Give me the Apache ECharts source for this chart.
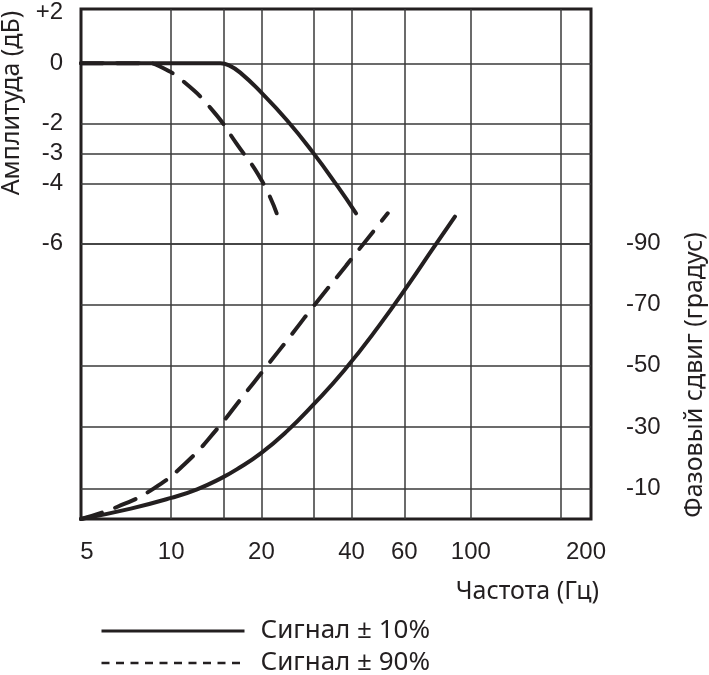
<!DOCTYPE html>
<html><head><meta charset="utf-8">
<script src="https://cdn.jsdelivr.net/npm/echarts@6/dist/echarts.min.js"></script>
<style>html,body{margin:0;padding:0;background:#fff}#c{width:709px;height:675px}</style>
</head><body><div id="c"></div>
<script>
// Axis ticks / labels
const freqGrid = [10, 15, 20, 30, 40, 60, 100, 200];
const freqLabels = [5, 10, 20, 40, 60, 100, 200];
const ampGrid = [0, -2, -3, -4, -6];
const ampLabels = [1.7, 0, -2, -3, -4, -6];
const phaseGrid = [-90, -70, -50, -30, -10];

// Amplitude, signal ±10% (solid)
const ampFreq10 = [5, 10, 14.6, 15.6, 17, 20, 24.3, 29.7, 35.8, 41.4];
const amp10     = [0, 0, 0, -0.07, -0.31, -0.98, -1.89, -2.97, -4.08, -5.0];
// Amplitude, signal ±90% (dashed)
const ampFreq90 = [5, 8.3, 9.1, 11.0, 13.85, 16.5, 20, 22.5];
const amp90     = [0, 0, -0.09, -0.61, -1.61, -2.67, -3.89, -5.0];
// Phase, signal ±10% (solid)
const phFreq10 = [5, 7.33, 10, 12.2, 14.8, 16.55, 20, 24.3, 29.7, 37.7, 49.5, 62.8, 74.4, 88.5];
const phase10  = [0, -3.4, -6.9, -9.7, -13.5, -16.2, -21.6, -28.6, -37.2, -48.4, -63.2, -77.4, -88.0, -98.7];
// Phase, signal ±90% (dashed)
const phFreq90 = [5, 6.62, 8.76, 11.3, 14.2, 17.4, 20.3, 25.5, 29.7, 38.4, 52.8];
const phase90  = [0, -4, -10, -18.7, -29.3, -40.2, -48.5, -60.8, -69.2, -82.8, -99.8];

const seriesNames = ['Сигнал ± 10%', 'Сигнал ± 90%'];

const pairs = (xs, ys) => xs.map((x, i) => [x, ys[i]]);
const INK = '#231f20';
const GRIDC = '#3a3a3a';
const tickFont = 'Liberation Sans, Arial, sans-serif';
const titleFont = 'Noto Sans, sans-serif';

const chart = echarts.init(document.getElementById('c'), null, {renderer: 'canvas'});
const solid = {color: INK, width: 4, cap: 'round', join: 'round'};
const dashed = {color: INK, width: 4, type: [22, 14], cap: 'round', join: 'round'};
const SM = 0.5;

chart.setOption({
  animation: false,
  backgroundColor: '#fff',
  grid: {left: 81, top: 9, width: 510, height: 510, show: true, borderColor: INK, borderWidth: 3, backgroundColor: 'transparent', containLabel: false},
  xAxis: {
    type: 'log', logBase: 10, min: 5, max: 251.8,
    axisLine: {show: false},
    axisTick: {show: false, customValues: freqGrid},
    splitLine: {show: true, lineStyle: {color: GRIDC, width: 1.5}},
    axisLabel: {
      customValues: freqLabels, margin: 21, color: INK, fontSize: 24, fontFamily: tickFont,
      formatter: v => v === 5 ? '{a|5}' : (v === 200 ? '{b|200}' : String(v)),
      rich: {
        a: {padding: [0, 0, 0, 12], fontSize: 24, fontFamily: tickFont, color: INK},
        b: {padding: [0, 0, 0, 50], fontSize: 24, fontFamily: tickFont, color: INK}
      }
    }
  },
  yAxis: [{
    type: 'value', min: -15.19, max: 1.81, position: 'left',
    axisLine: {show: false},
    axisTick: {show: false, customValues: ampGrid},
    splitLine: {show: true, lineStyle: {color: GRIDC, width: 1.5}},
    axisLabel: {customValues: ampLabels, margin: 18, color: INK, fontSize: 24, fontFamily: tickFont,
      formatter: v => v > 1 ? '+2' : String(v)}
  }, {
    type: 'value', min: -166.5, max: 0, inverse: true, position: 'right',
    axisLine: {show: false},
    axisTick: {show: false, customValues: phaseGrid},
    splitLine: {show: true, lineStyle: {color: GRIDC, width: 1.5}},
    axisLabel: {customValues: phaseGrid, margin: 35, color: INK, fontSize: 24, fontFamily: tickFont}
  }],
  legend: {
    left: 100, top: 616, height: 80, padding: 0, orient: 'vertical', itemWidth: 143, itemHeight: 14, itemGap: 2,
    itemStyle: {color: 'rgba(0,0,0,0)', borderWidth: 0, opacity: 0},
    textStyle: {fontSize: 26, fontFamily: titleFont, color: INK, lineHeight: 30, padding: [0, 0, 0, 11]},
    selectedMode: false,
    data: [
      {name: seriesNames[0], lineStyle: {color: INK, width: 3, type: 'solid', cap: 'butt'}},
      {name: seriesNames[1], lineStyle: {color: INK, width: 2.5, type: [8, 6.5], cap: 'butt'}}
    ]
  },
  graphic: [
    {type: 'text', x: 12, y: 103, rotation: Math.PI / 2,
      style: {text: 'Амплитуда (дБ)', fontSize: 25, fontFamily: titleFont, fill: INK, align: 'center', verticalAlign: 'middle'}},
    {type: 'text', x: 695, y: 375, rotation: Math.PI / 2,
      style: {text: 'Фазовый сдвиг (градус)', fontSize: 25, fontFamily: titleFont, fill: INK, align: 'center', verticalAlign: 'middle'}},
    {type: 'text', x: 599, y: 592,
      style: {text: 'Частота (Гц)', fontSize: 25, fontFamily: titleFont, fill: INK, align: 'right', verticalAlign: 'middle'}}
  ],
  series: [
    {name: seriesNames[0], type: 'line', xAxisIndex: 0, yAxisIndex: 0, data: pairs(ampFreq10, amp10),
      symbol: 'none', showSymbol: false, smooth: SM, lineStyle: solid, itemStyle: {color: INK}, z: 5},
    {name: seriesNames[1], type: 'line', xAxisIndex: 0, yAxisIndex: 0, data: pairs(ampFreq90, amp90),
      symbol: 'none', showSymbol: false, smooth: SM, lineStyle: dashed, itemStyle: {color: INK}, z: 4},
    {name: seriesNames[0], type: 'line', xAxisIndex: 0, yAxisIndex: 1, data: pairs(phFreq10, phase10),
      symbol: 'none', showSymbol: false, smooth: SM, lineStyle: solid, itemStyle: {color: INK}, z: 5},
    {name: seriesNames[1], type: 'line', xAxisIndex: 0, yAxisIndex: 1, data: pairs(phFreq90, phase90),
      symbol: 'none', showSymbol: false, smooth: SM, lineStyle: dashed, itemStyle: {color: INK}, z: 4}
  ]
});
</script></body></html>
